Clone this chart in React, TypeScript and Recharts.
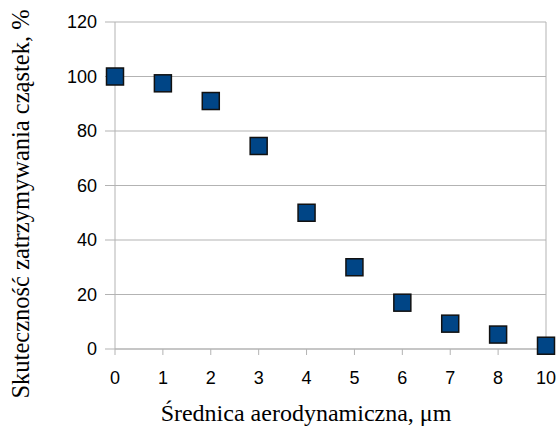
import React from "react";
import {
  LineChart,
  Line,
  XAxis,
  YAxis,
  CartesianGrid,
  ReferenceLine,
  Label,
} from "recharts";

const diameters = ["0", "1", "2", "3", "4", "5", "6", "7", "8", "10"];
const efficiency = [100, 97.5, 91, 74.5, 50, 30, 17, 9.3, 5.3, 1.2];
const yTicks = [0, 20, 40, 60, 80, 100, 120];

const data = diameters.map((d, i) => ({ d, value: efficiency[i] }));

const SERIF = "Liberation Serif";
const SANS = "Liberation Sans";

const SquareDot = (props: any) => {
  const { cx, cy, index } = props;
  if (cx == null || cy == null) return null;
  return (
    <rect
      key={`sq-${index}`}
      x={cx - 8.5}
      y={cy - 8.5}
      width={17}
      height={17}
      fill="#004586"
      stroke="#111"
      strokeWidth={1.5}
    />
  );
};

const XTitle = () => (
  <text x={306} y={421} textAnchor="middle" style={{ fontFamily: SERIF, fontSize: 24 }} fill="#000">
    Średnica aerodynamiczna, μm
  </text>
);

const YTitle = () => (
  <text
    x={0}
    y={0}
    transform="translate(29, 204) rotate(-90)"
    textAnchor="middle"
    style={{ fontFamily: SERIF, fontSize: 24.5 }}
    fill="#000"
  >
    Skuteczność zatrzymywania cząstek, %
  </text>
);

const tickStyle = { fontFamily: SANS, fontSize: 18, fill: "#000" };

export default function App() {
  return (
    <div style={{ position: "absolute", left: 0, top: 0, fontFamily: SANS }}>
      <LineChart
        width={559}
        height={432}
        data={data}
        margin={{ top: 22, right: 13, left: 0, bottom: 0 }}
      >
        <CartesianGrid vertical={false} stroke="#b3b3b3" />
        <XAxis
          dataKey="d"
          type="category"
          height={83}
          stroke="#b3b3b3"
          tickSize={6}
          tickMargin={16}
          tick={tickStyle}
          interval={0}
        >
          <Label content={<XTitle />} />
        </XAxis>
        <YAxis
          domain={[0, 120]}
          ticks={yTicks}
          width={115}
          stroke="#b3b3b3"
          tickSize={10}
          tickMargin={8}
          tick={tickStyle}
          interval={0}
        >
          <Label content={<YTitle />} />
        </YAxis>
        <ReferenceLine x="10" stroke="#b3b3b3" />
        <Line
          dataKey="value"
          stroke="none"
          isAnimationActive={false}
          dot={<SquareDot />}
          activeDot={false}
        />
      </LineChart>
    </div>
  );
}
